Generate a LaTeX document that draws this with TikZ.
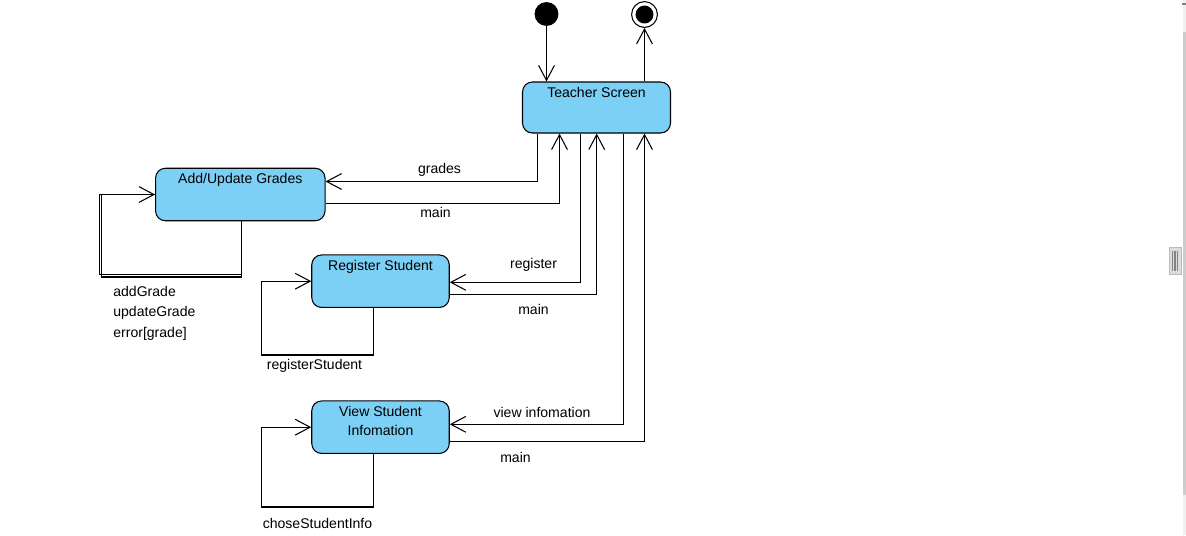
\documentclass[tikz,border=0pt]{standalone}
\usepackage{fontspec}
\setmainfont{Liberation Sans}
\usetikzlibrary{arrows.meta,positioning}

\definecolor{stateblue}{RGB}{124,207,245}
\definecolor{barlight}{RGB}{240,240,240}
\definecolor{bargray}{RGB}{205,205,205}
\definecolor{knobgray}{RGB}{220,220,220}
\definecolor{knobline}{RGB}{130,130,130}

\tikzset{
  state/.style={draw, fill=stateblue, rounded corners=5.6pt, line width=0.6pt, inner sep=0pt},
  stname/.style={anchor=north, inner sep=0pt, yshift=-3pt, align=center, font=\fontsize{8}{10.8}\selectfont},
  startdot/.style={circle, fill=black, minimum size=13.6pt, inner sep=0pt},
  stopdot/.style={circle, draw, line width=0.6pt, minimum size=14.7pt, inner sep=0pt,
    path picture={\fill (path picture bounding box.center) circle (5.1pt);}},
  trans/.style={line width=0.6pt, -{Straight Barb[length=8.5pt, width=9pt, line width=0.6pt]}},
  tlabel/.style={anchor=base, inner sep=0pt, font=\fontsize{8}{10}\selectfont},
}

\begin{document}
\begin{tikzpicture}[x=0.02cm, y=-0.02cm]

\useasboundingbox (0,0) rectangle (1186,535);

% States
\node[startdot] (start) at (546.5,14) {};
\node[stopdot] (stop) at (644.5,14.5) {};
\node[state, minimum width=2.96cm, minimum height=1.02cm,
  label={[stname]north:Teacher Screen}] (teacher) at (596.5,107.5) {};
\node[state, minimum width=3.39cm, minimum height=1.05cm,
  label={[stname]north:Add/Update Grades}] (grades) at (240.3,194.5) {};
\node[state, minimum width=2.75cm, minimum height=1.05cm,
  label={[stname]north:Register Student}] (register) at (380.5,281.2) {};
\node[state, minimum width=2.75cm, minimum height=1.05cm,
  label={[stname]north:{View Student\\Infomation}}] (view) at (380.5,427.2) {};

% Bends of the transitions
\coordinate (g1) at (537.5,181.5);
\coordinate (m1) at (559.5,203.5);
\coordinate (r1) at (580.5,282.3);
\coordinate (m2) at (596.7,294.3);
\coordinate (v1) at (623.3,424.3);
\coordinate (m3) at (644.5,441.7);
\coordinate (gl1) at (99.5,274.5);
\coordinate (gl2) at (101.5,277);
\coordinate (rl) at (261.7,355);
\coordinate (vl) at (261.7,507);

% Start and stop
\draw[trans] (start) -- (start |- teacher.north);
\draw[trans] (teacher.north -| stop) -- (stop);

% Teacher Screen to the states and back
\draw[trans] (teacher.south -| g1) |- (grades.east |- g1);
\draw[trans] (grades.east |- m1) -| (teacher.south -| m1);
\draw[trans] (teacher.south -| r1) |- (register.east |- r1);
\draw[trans] (register.east |- m2) -| (teacher.south -| m2);
\draw[trans] (teacher.south -| v1) |- (view.east |- v1);
\draw[trans] (view.east |- m3) -| (teacher.south -| m3);

% Self transitions
\draw[trans] ([xshift=0.8pt]grades.south) |- (gl1) |- (grades.west);
\draw[line width=0.6pt] ([xshift=0.8pt]grades.south) |- (gl2) |- (grades.west);
\draw[trans] ([xshift=-4pt]register.south) |- (rl) |- (register.west);
\draw[trans] ([xshift=-4pt]view.south) |- (vl) |- (view.west);

% Transition labels
\node[tlabel] (lgrades) at (439.5,173) {grades};
\node[tlabel] (lmain1) at (435.5,217.5) {main};
\node[tlabel] (lreg) at (533.5,268.5) {register};
\node[tlabel] (lmain2) at (533.5,314.5) {main};
\node[tlabel] (lview) at (542,417) {view infomation};
\node[tlabel] (lmain3) at (515.5,462) {main};
\node[tlabel, anchor=base west] (ladd) at (113,296.5) {addGrade};
\node[tlabel, anchor=base west] (lupd) at (113,316.5) {updateGrade};
\node[tlabel, anchor=base west] (lerr) at (113,337.5) {error[grade]};
\node[tlabel] (lregst) at (314.5,369.5) {registerStudent};
\node[tlabel] (lchose) at (317.5,528.5) {choseStudentInfo};

% Scroll bar at the right edge
\fill[barlight] (1182.7,0) rectangle (1185.7,535);
\fill[bargray] (1182.7,31.7) rectangle (1185.7,495);
\fill[knobline] (1182,3.3) rectangle (1186,4.7);
\draw[knobgray!85!black, fill=knobgray, line width=0.3pt] (1169.3,247.3) rectangle (1181.7,274);
\foreach \bx in {1172.3,1175,1177.7}
  \draw[knobline, line width=0.7pt] (\bx,250.7) -- (\bx,270.7);

\end{tikzpicture}
\end{document}
